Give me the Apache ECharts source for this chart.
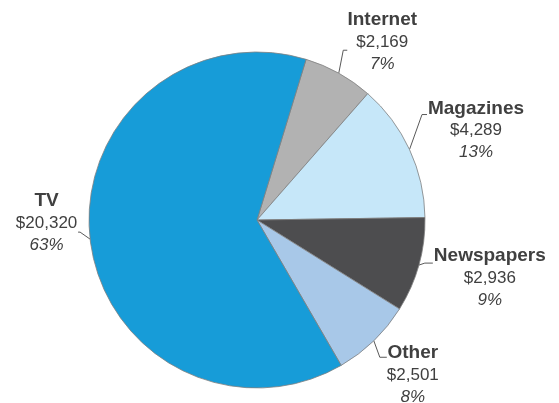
<!DOCTYPE html>
<html>
<head>
<meta charset="utf-8">
<script src="https://cdn.jsdelivr.net/npm/echarts@6/dist/echarts.min.js"></script>
<style>
  html, body { margin: 0; padding: 0; background: #fff; }
  #chart { width: 559px; height: 403px; }
</style>
</head>
<body>
<div id="chart"></div>
<script>
const categories = ['Internet', 'Magazines', 'Newspapers', 'Other', 'TV']
const spend = [2169, 4289, 2936, 2501, 20320]
const colors = ['#b2b2b2', '#c6e7f9', '#4d4d4f', '#a8c8e8', '#179cd8']

// label line bend from the slice edge: [dx, dy, horizontal tail]
const lineBend = [[4.5, -23, 4], [12.5, -35, 5], [6, -2, 8], [6, 16.5, 7], [-10, -7, -2]]
// text block centre relative to the end of the label line
const textShift = [[35, -8], [49, 16], [57, 15], [26, 18], [-31.5, -9]]

const chart = echarts.init(document.getElementById('chart'), null, { renderer: 'canvas' })

function money(v) {
  return '$' + String(v).replace(/\B(?=(\d{3})+(?!\d))/g, ',')
}

const textColor = '#404040'
const font = '"Liberation Sans", Arial, sans-serif'

chart.setOption({
  backgroundColor: '#fff',
  animation: false,
  series: [{
    type: 'pie',
    center: [257, 220],
    radius: 168,
    startAngle: 73,
    clockwise: true,
    avoidLabelOverlap: false,
    emphasis: { disabled: true },
    itemStyle: { borderColor: '#808080', borderWidth: 0.8 },
    data: categories.map((name, i) => ({
      name, value: spend[i], itemStyle: { color: colors[i] }
    })),
    label: {
      show: true,
      position: 'outside',
      fontFamily: font,
      formatter: p => '{n|' + p.name + '}\n{v|' + money(p.value) + '}\n{p|' + Math.round(p.percent) + '%}',
      rich: {
        n: { fontFamily: font, fontSize: 19, fontWeight: 'bold', color: textColor, lineHeight: 22, align: 'center' },
        v: { fontFamily: font, fontSize: 17, color: textColor, lineHeight: 22, align: 'center' },
        p: { fontFamily: font, fontSize: 17, fontStyle: 'italic', color: textColor, lineHeight: 22, align: 'center' }
      }
    },
    labelLine: {
      show: true,
      length: 10,
      length2: 5,
      lineStyle: { color: '#595959', width: 1 }
    },
    labelLayout: params => {
      const i = params.dataIndex
      const p0 = params.labelLinePoints[0]
      const b = lineBend[i]
      const p1 = [p0[0] + b[0], p0[1] + b[1]]
      const p2 = [p1[0] + b[2], p1[1]]
      return {
        x: p2[0] + textShift[i][0],
        y: p2[1] + textShift[i][1],
        align: 'center',
        verticalAlign: 'middle',
        labelLinePoints: [p0, p1, p2]
      }
    }
  }]
})
</script>
</body>
</html>
